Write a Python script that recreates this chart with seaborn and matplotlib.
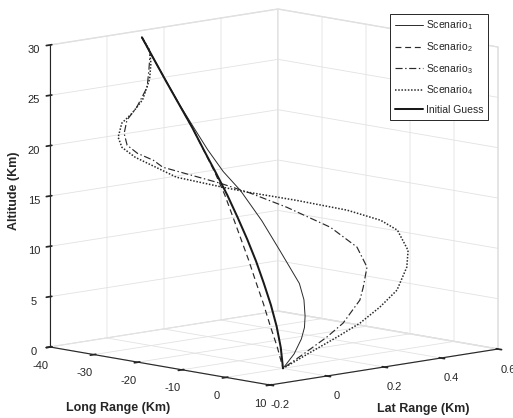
import numpy as np
import matplotlib
matplotlib.use('Agg')
import matplotlib.pyplot as plt
import seaborn as sns
from mpl_toolkits.mplot3d import proj3d

sns.set_theme(style='white')
plt.rcParams['font.family'] = ['Liberation Sans', 'DejaVu Sans']
plt.rcParams['mathtext.fontset'] = 'custom'
plt.rcParams['mathtext.rm'] = 'Liberation Sans'
plt.rcParams['mathtext.it'] = 'Liberation Sans:italic'
plt.rcParams['axes.unicode_minus'] = False
plt.rcParams['grid.color'] = '#e2e2e2'
plt.rcParams['grid.linewidth'] = 0.6

# ---------------- data ----------------
guess_alt = [30, 28, 26, 24, 22, 20, 18, 16, 14, 12, 10, 8, 6, 4, 2, 0]
guess_long = [-35.3, -32.3, -29.2, -26.1, -23.0, -20.1, -17.2, -14.4, -11.8, -9.4, -7.2, -5.2, -3.4, -1.9, -0.7, 0.0]
guess_lat = [0.05, 0.047, 0.043, 0.04, 0.037, 0.033, 0.03, 0.027, 0.023, 0.02, 0.017, 0.013, 0.01, 0.007, 0.003, 0.0]

s1_alt = [30, 28, 26, 24, 22, 20, 18, 16.2, 13.4, 10.6, 7.5, 6, 4.5, 3.5, 2.5, 1.2, 0]
s1_long = [-35.3, -32.3, -29.2, -26.1, -23.0, -20.1, -17.2, -14.7, -11.1, -7.8, -4.7, -3.4, -2.3, -1.6, -1.0, -0.4, 0.0]
s1_lat = [0.05, 0.047, 0.044, 0.041, 0.042, 0.046, 0.056, 0.078, 0.097, 0.11, 0.13, 0.126, 0.113, 0.1, 0.08, 0.045, 0.0]

s2_alt = [30, 28, 26, 24, 22, 20, 18, 16, 14, 12, 10, 8, 6, 4, 2, 0]
s2_long = [-35.3, -32.3, -29.2, -26.1, -23.0, -20.15, -17.4, -15.0, -12.9, -10.9, -8.9, -7.0, -5.1, -3.4, -1.5, 0.0]
s2_lat = [0.05, 0.047, 0.043, 0.04, 0.037, 0.033, 0.03, 0.027, 0.023, 0.02, 0.017, 0.013, 0.01, 0.007, 0.003, 0.0]

s3_alt = [30, 28.6, 26.9, 25.2, 23.08, 21.65, 20.3, 19.2, 18.58, 18.17, 17.65, 17.05, 15.87, 14.2, 11.93, 9.87, 8.0, 6.28, 5.18, 3.34, 2.3, 1.1, 0]
s3_long = [-35.3, -33.3, -33.4, -33.6, -35.7, -37.8, -38.3, -37.5, -35.1, -31.4, -29.2, -16.0, -14.25, -12.1, -9.3, -7.1, -5.2, -3.6, -2.8, -1.5, -0.9, -0.35, 0.0]
s3_lat = [0.05, 0.048, 0.045, 0.042, 0.038, 0.036, 0.034, 0.032, 0.031, 0.03, 0.029, 0.028, 0.105, 0.2, 0.31, 0.369, 0.375, 0.337, 0.313, 0.234, 0.168, 0.08, 0.0]

s4_alt = [30, 28.85, 27.6, 26.05, 23.9, 22.4, 21.27, 19.82, 18.9, 18.15, 16.9, 16.7, 16.0, 14.65, 13.15, 11.85, 10.78, 8.88, 7.45, 5.55, 4.26, 3.1, 2.15, 1.12, 0]
s4_long = [-35.3, -33.4, -33.0, -33.1, -34.5, -36.7, -38.9, -39.6, -38.6, -35.5, -26.0, -15.4, -14.4, -12.6, -10.8, -9.2, -8.0, -6.1, -4.7, -3.05, -2.1, -1.35, -0.8, -0.35, 0.0]
s4_lat = [0.05, 0.048, 0.046, 0.043, 0.04, 0.037, 0.035, 0.033, 0.031, 0.03, 0.028, 0.028, 0.096, 0.243, 0.392, 0.485, 0.525, 0.533, 0.507, 0.447, 0.372, 0.291, 0.202, 0.102, 0.0]

long_ticks = [-40, -30, -20, -10, 0, 10]
lat_ticks = [-0.2, 0, 0.2, 0.4, 0.6]
lat_ticklabels = ['-0.2', '0', '0.2', '0.4', '0.6']
alt_ticks = [0, 5, 10, 15, 20, 25, 30]
labels = ['Scenario$_1$', 'Scenario$_2$', 'Scenario$_3$', 'Scenario$_4$', 'Initial Guess']

# ---------------- figure ----------------
W, H = 513, 418
fig = plt.figure(figsize=(W / 100, H / 100), dpi=100)
ax = fig.add_axes([0.05, 0.05, 0.9, 0.9], projection='3d', proj_type='ortho')
ax.view_init(elev=9.5, azim=-43.7)
ax.set_box_aspect((1.04, 1.03, 1.0))
ax.set_xlim(-40, 10)
ax.set_ylim(-0.2, 0.6)
ax.set_zlim(0, 30)

ink = sns.color_palette(['#1a1a1a'])[0]
h1, = ax.plot(s1_long, s1_lat, s1_alt, color='#2a2a2a', lw=0.7, ls='-')
h2, = ax.plot(s2_long, s2_lat, s2_alt, color='#2a2a2a', lw=0.85, dashes=(5, 3.2))
h3, = ax.plot(s3_long, s3_lat, s3_alt, color='#2a2a2a', lw=0.85, dashes=(6, 2.2, 1.2, 2.2))
h4, = ax.plot(s4_long, s4_lat, s4_alt, color='#2a2a2a', lw=1.1, dashes=(1, 1.1))
h5, = ax.plot(guess_long, guess_lat, guess_alt, color=ink, lw=1.45, ls='-')

ax.set_xticks(long_ticks)
ax.set_yticks(lat_ticks)
ax.set_yticklabels(lat_ticklabels)
ax.set_zticks(alt_ticks)
ax.set_xlabel('')
ax.set_ylabel('')
ax.set_zlabel('')
ax.zaxis.set_ticks_position('lower')
for a in (ax.xaxis, ax.yaxis, ax.zaxis):
    a.set_pane_color((1, 1, 1, 1))
    a.pane.set_edgecolor('#dcdcdc')
    a.line.set_color('#262626')
    a.line.set_linewidth(0.8)
ax.tick_params(axis='both', labelsize=8, colors='#262626')
ax.xaxis.set_tick_params(pad=0)
ax.yaxis.set_tick_params(pad=1)
ax.zaxis.set_tick_params(pad=-1)
ax.grid(True)

# fit projected box onto target pixel box
target_x = (50, 498)
target_y = (H - 385, H - 9)
for _ in range(3):
    fig.canvas.draw()
    xl, yl, zl = ax.get_xlim(), ax.get_ylim(), ax.get_zlim()
    cx_, cy_, cz_ = np.meshgrid(xl, yl, zl)
    px, py, _z = proj3d.proj_transform(cx_.ravel(), cy_.ravel(), cz_.ravel(), ax.get_proj())
    pts = ax.transData.transform(np.column_stack([px, py]))
    pos = ax.get_position()
    S0 = pos.width * W
    c0x = (pos.x0 + pos.width / 2) * W
    c0y = (pos.y0 + pos.height / 2) * H
    u = (pts[:, 0] - c0x) / S0
    v = (pts[:, 1] - c0y) / S0
    Sx = (target_x[1] - target_x[0]) / (u.max() - u.min())
    Sy = (target_y[1] - target_y[0]) / (v.max() - v.min())
    S = 0.5 * (Sx + Sy)
    ncx = 0.5 * (target_x[0] + target_x[1]) - 0.5 * (u.max() + u.min()) * S
    ncy = 0.5 * (target_y[0] + target_y[1]) - 0.5 * (v.max() + v.min()) * S
    ax.set_position([(ncx - S / 2) / W, (ncy - S / 2) / H, S / W, S / H])

fig.text(14 / W, 1 - 191 / H, 'Altitude (Km)', rotation=90, ha='center', va='center',
         fontsize=9, fontweight='bold', color='#262626')
fig.text(118 / W, 1 - 408 / H, 'Long Range (Km)', ha='center', va='center',
         fontsize=9, fontweight='bold', color='#262626')
fig.text(423 / W, 1 - 409 / H, 'Lat Range (Km)', ha='center', va='center',
         fontsize=9, fontweight='bold', color='#262626')

leg = fig.legend([h1, h2, h3, h4, h5], labels, loc='upper right',
                 bbox_to_anchor=(488 / W, 1 - 14 / H), fontsize=7.5,
                 frameon=True, fancybox=False, edgecolor='#262626', framealpha=1,
                 handlelength=2.7, handletextpad=0.3, labelspacing=0.75, borderpad=0.45,
                 borderaxespad=0)
leg.get_frame().set_linewidth(0.7)

fig.savefig('out.png', dpi=100)
